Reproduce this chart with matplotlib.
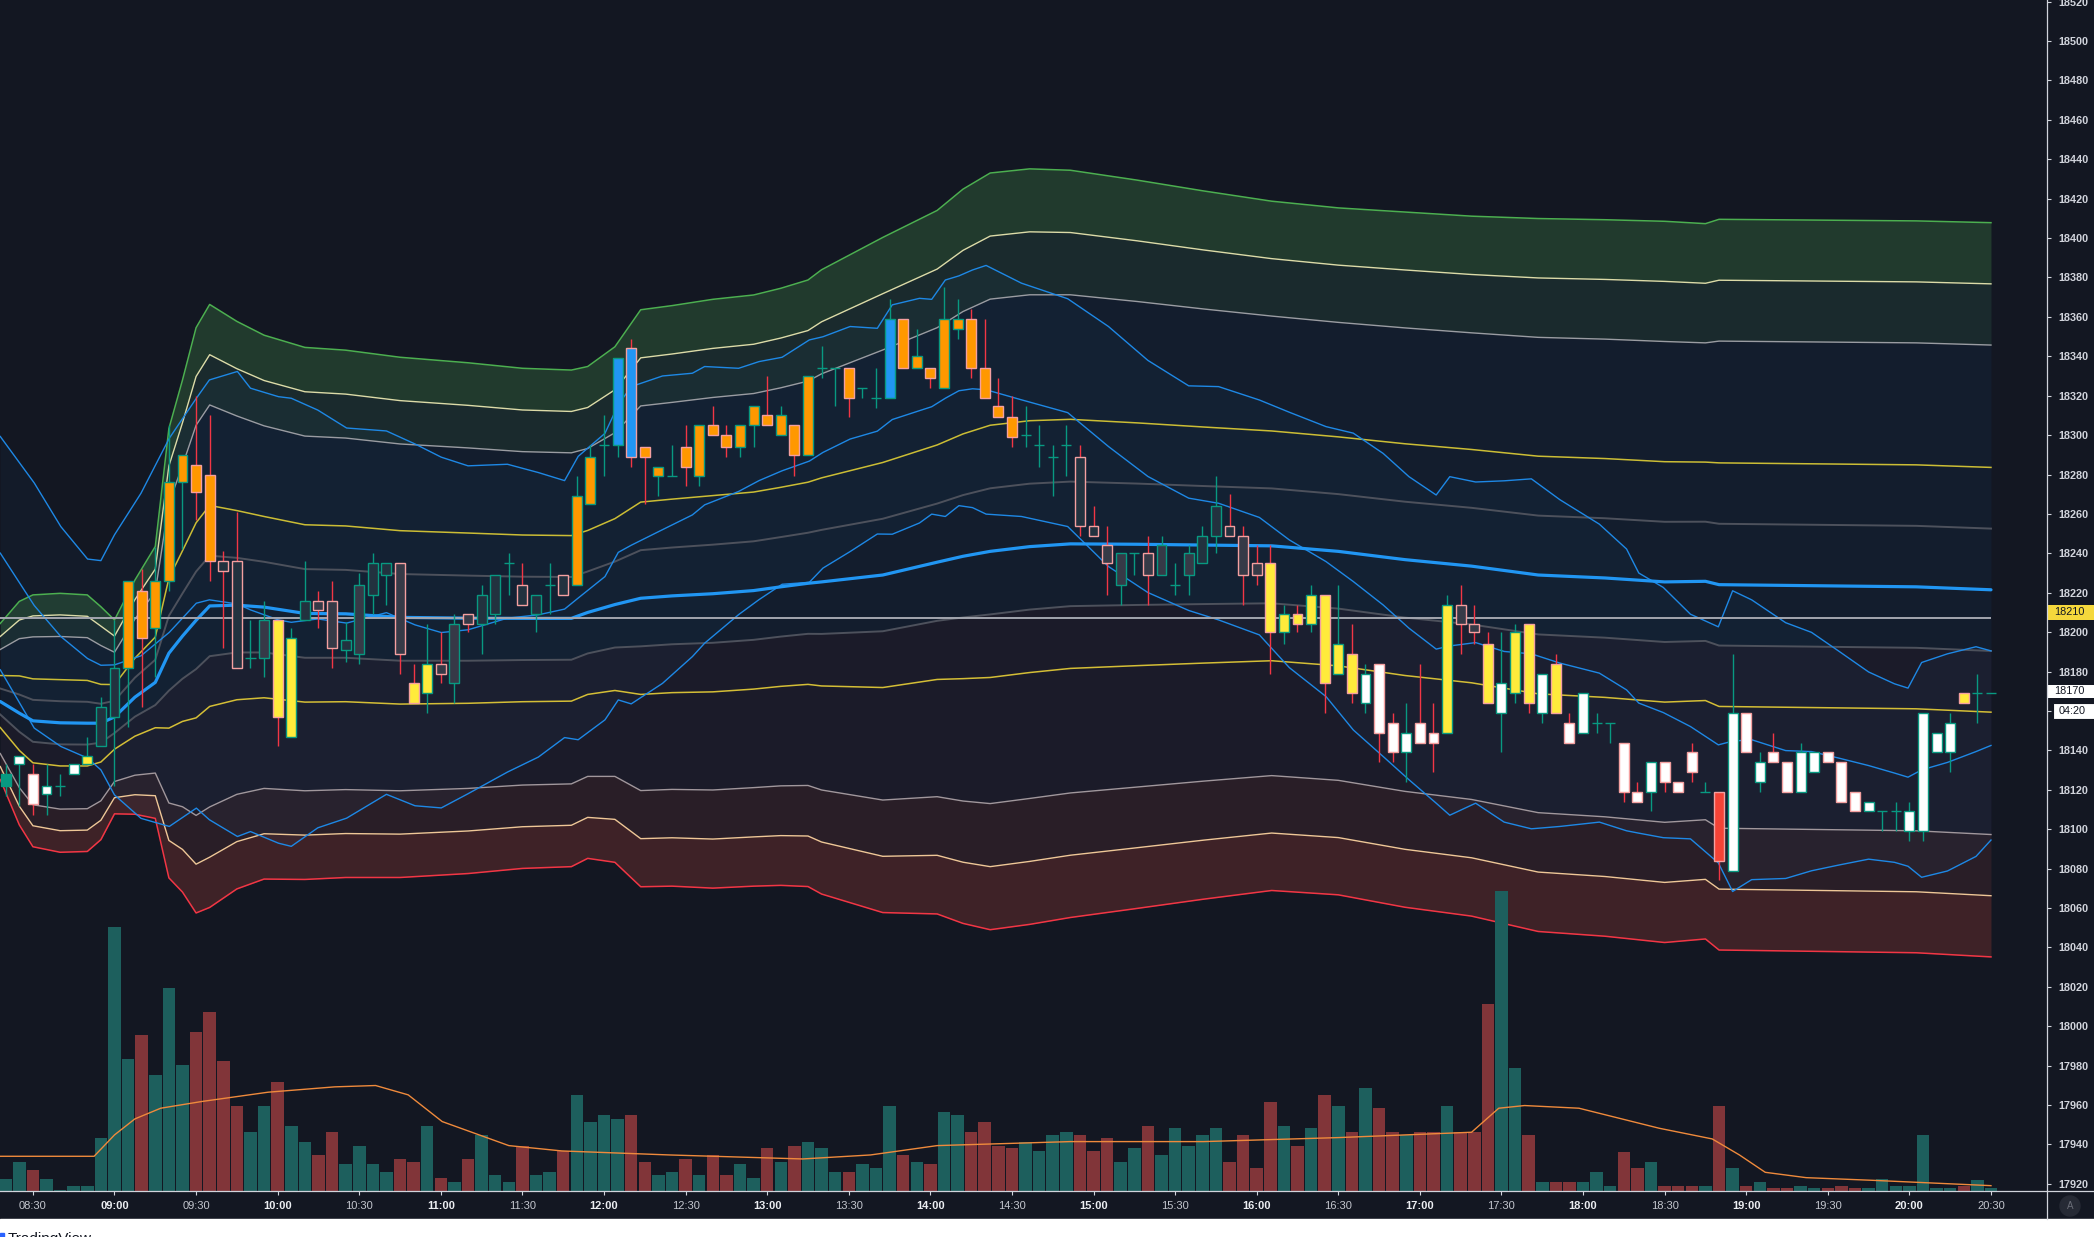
import matplotlib
matplotlib.use('Agg')
import matplotlib.pyplot as plt
import matplotlib.transforms as mtrans
from matplotlib.patches import Rectangle, Circle
from matplotlib.lines import Line2D
import numpy as np

plt.rcParams['font.family'] = ['Liberation Sans', 'DejaVu Sans']

BG = '#131722'

# ---------------- candles (5-minute bars, index 0 = 08:30) ----------------
bar_index = list(range(-2, 145))
opens = [18122, 18133, 18128, 18118, 18122, 18128, 18133, 18142, 18157, 18182,
         18221, 18202, 18226, 18276, 18285, 18280, 18236, 18236, 18187, 18187,
         18206, 18147, 18206, 18216, 18216, 18191, 18189, 18219, 18229, 18235,
         18174, 18169, 18184, 18174, 18209, 18204, 18209, 18235, 18224, 18209,
         18224, 18229, 18224, 18265, 18295, 18295, 18344, 18294, 18279, 18279,
         18294, 18279, 18305, 18300, 18294, 18305, 18310, 18300, 18305, 18290,
         18334, 18334, 18334, 18324, 18319, 18319, 18359, 18334, 18334, 18324,
         18354, 18359, 18334, 18315, 18309, 18300, 18295, 18289, 18295, 18289,
         18254, 18244, 18224, 18240, 18240, 18229, 18224, 18229, 18235, 18249,
         18254, 18249, 18235, 18235, 18200, 18209, 18204, 18219, 18179, 18189,
         18164, 18184, 18154, 18139, 18154, 18149, 18149, 18214, 18204, 18194,
         18159, 18169, 18204, 18159, 18184, 18154, 18149, 18154, 18154, 18144,
         18119, 18119, 18134, 18124, 18139, 18119, 18119, 18079, 18159, 18124,
         18139, 18134, 18119, 18129, 18139, 18134, 18119, 18109, 18109, 18109,
         18099, 18099, 18139, 18139, 18169, 18169, 18169]
highs = [18133, 18137, 18133, 18133, 18128, 18133, 18147, 18167, 18206, 18226,
         18232, 18243, 18305, 18290, 18320, 18310, 18241, 18261, 18206, 18216,
         18206, 18202, 18236, 18221, 18226, 18205, 18230, 18240, 18235, 18235,
         18184, 18204, 18200, 18209, 18209, 18224, 18229, 18240, 18235, 18219,
         18235, 18229, 18279, 18295, 18310, 18339, 18349, 18294, 18284, 18295,
         18305, 18305, 18315, 18305, 18305, 18315, 18330, 18315, 18305, 18330,
         18345, 18334, 18334, 18324, 18334, 18369, 18359, 18354, 18334, 18375,
         18369, 18364, 18359, 18329, 18320, 18315, 18305, 18295, 18305, 18295,
         18264, 18254, 18240, 18240, 18249, 18249, 18235, 18244, 18254, 18279,
         18270, 18254, 18244, 18244, 18214, 18214, 18224, 18219, 18224, 18204,
         18184, 18184, 18159, 18164, 18184, 18164, 18219, 18224, 18214, 18200,
         18200, 18204, 18204, 18179, 18189, 18159, 18169, 18159, 18154, 18144,
         18124, 18134, 18134, 18124, 18144, 18124, 18119, 18189, 18159, 18139,
         18149, 18134, 18144, 18139, 18139, 18134, 18119, 18114, 18109, 18114,
         18114, 18159, 18149, 18159, 18169, 18179, 18169]
lows = [18117, 18112, 18107, 18107, 18117, 18128, 18133, 18142, 18122, 18152,
        18162, 18177, 18221, 18242, 18257, 18226, 18192, 18182, 18182, 18177,
        18142, 18147, 18206, 18202, 18182, 18185, 18184, 18209, 18214, 18179,
        18164, 18159, 18174, 18164, 18200, 18189, 18204, 18219, 18214, 18200,
        18209, 18219, 18224, 18265, 18279, 18289, 18284, 18265, 18269, 18279,
        18274, 18274, 18300, 18289, 18289, 18294, 18305, 18300, 18279, 18290,
        18329, 18315, 18309, 18319, 18314, 18319, 18334, 18334, 18324, 18324,
        18349, 18329, 18319, 18309, 18294, 18294, 18284, 18269, 18279, 18249,
        18249, 18219, 18214, 18229, 18214, 18229, 18219, 18219, 18235, 18240,
        18249, 18214, 18224, 18179, 18194, 18200, 18200, 18159, 18179, 18164,
        18159, 18134, 18134, 18124, 18144, 18129, 18149, 18189, 18194, 18164,
        18139, 18164, 18159, 18154, 18159, 18144, 18149, 18149, 18144, 18114,
        18114, 18109, 18119, 18119, 18124, 18119, 18074, 18079, 18139, 18119,
        18134, 18119, 18119, 18129, 18134, 18114, 18109, 18109, 18099, 18099,
        18094, 18094, 18139, 18129, 18164, 18154, 18169]
closes = [18128, 18137, 18113, 18122, 18122, 18133, 18137, 18162, 18182, 18226,
          18197, 18226, 18276, 18290, 18271, 18236, 18231, 18182, 18187, 18206,
          18157, 18197, 18216, 18211, 18192, 18196, 18224, 18235, 18235, 18189,
          18164, 18184, 18179, 18204, 18204, 18219, 18229, 18235, 18214, 18219,
          18224, 18219, 18269, 18289, 18295, 18339, 18289, 18289, 18284, 18279,
          18284, 18305, 18300, 18294, 18305, 18315, 18305, 18310, 18290, 18330,
          18334, 18334, 18319, 18324, 18319, 18359, 18334, 18340, 18329, 18359,
          18359, 18334, 18319, 18309, 18299, 18300, 18295, 18289, 18295, 18254,
          18249, 18235, 18240, 18240, 18229, 18244, 18224, 18240, 18249, 18264,
          18249, 18229, 18229, 18200, 18209, 18204, 18219, 18174, 18194, 18169,
          18179, 18149, 18139, 18149, 18144, 18144, 18214, 18204, 18200, 18164,
          18174, 18200, 18164, 18179, 18159, 18144, 18169, 18154, 18154, 18119,
          18114, 18134, 18124, 18119, 18129, 18119, 18084, 18159, 18139, 18134,
          18134, 18119, 18139, 18139, 18134, 18114, 18109, 18114, 18109, 18109,
          18109, 18159, 18149, 18154, 18164, 18169, 18169]
# body colour codes: o orange, y yellow, b blue, w white, r red, t teal,
# n dark blue-grey, g dark grey, x doji
body_codes = ("twwwxwynno" "oooooonnxg" "yynggngnng" "yygggnnxnn" "xnooxbboox"
              "oooooooooo" "xxoxxboooo" "oooooxxxxn" "nggxggxgnn" "nggyyyyyyy"
              "wwwwwwyggy" "wyywywwxxw" "wwwwwxrwww" "wwwwwwwwxx" "wwwwyxx")
volumes = [90, 215, 155, 90, 10, 35, 35, 400, 1980, 990,
           1170, 870, 1520, 940, 1190, 1340, 970, 640, 440, 640,
           820, 490, 370, 270, 440, 200, 340, 200, 140, 240,
           220, 490, 100, 70, 240, 420, 120, 70, 340, 120,
           140, 300, 720, 520, 570, 540, 570, 220, 120, 140,
           240, 120, 270, 120, 200, 100, 320, 220, 340, 370,
           320, 140, 140, 200, 170, 640, 270, 220, 200, 590,
           570, 440, 520, 340, 320, 370, 300, 420, 440, 420,
           300, 400, 220, 320, 490, 270, 470, 340, 420, 470,
           220, 420, 170, 670, 490, 340, 470, 720, 640, 440,
           770, 620, 440, 420, 440, 440, 640, 440, 440, 1400,
           2250, 920, 420, 70, 70, 70, 70, 140, 40, 290,
           170, 220, 40, 40, 40, 40, 640, 170, 40, 70,
           20, 20, 40, 20, 20, 40, 20, 20, 90, 40,
           40, 420, 20, 20, 40, 80, 20]

# volume moving average
volma_idx = [-2.4, 4.5, 6, 7.5, 9.4, 12.4, 17.3, 22.2, 25.2, 27.6, 30.1, 35, 38.9,
             46.8, 56.6, 61.6, 66.5, 76.3, 86.1, 96, 105.8, 107.8, 109.7, 113.7,
             119.6, 123.5, 125.5, 127.4, 130.4, 135.3, 144]
volma_vals = [260, 260, 420, 540, 620, 670, 740, 780, 790, 720, 520, 340, 300,
              270, 240, 270, 340, 370, 370, 400, 440, 620, 640, 620,
              470, 390, 270, 140, 100, 80, 40]

# VWAP centre line and its standard deviation
vwap_idx = [-2.4, -1, 0, 2, 4, 5, 6, 7.5, 9, 10, 11, 12, 13, 15, 17, 20, 23, 27,
            32, 36, 39.6, 40.8, 42.8, 44.7, 47, 50, 53, 55, 57, 58, 62.5, 66.5,
            68.4, 70.4, 73.3, 76.3, 81.2, 86.1, 91.1, 96, 100.9, 105.8, 110.7,
            115.6, 120, 123, 124, 138.5, 144]
vwap_mid = [18164.8, 18158.9, 18155.0, 18154.0, 18153.8, 18153.8, 18157.0, 18167.0,
            18174.5, 18189.3, 18198.0, 18206.0, 18213.3, 18213.7, 18212.7, 18209.5,
            18209.3, 18207.5, 18207.1, 18207.0, 18207.0, 18210.0, 18214.0, 18217.2,
            18218.4, 18219.5, 18221.1, 18223.0, 18224.8, 18225.5, 18229.0, 18235.5,
            18238.5, 18241.0, 18243.4, 18244.8, 18244.6, 18244.2, 18243.8, 18241.0,
            18236.8, 18233.5, 18229.0, 18227.5, 18225.5, 18225.8, 18224.1, 18223.0,
            18221.5]
vwap_sigma = [13.2, 18.9, 21.3, 21.9, 21.7, 19.7, 16.4, 19.8, 23.0, 38.0, 43.3,
              49.5, 51.0, 48.0, 46.0, 45.0, 44.6, 44.0, 43.2, 42.3, 42.0, 41.6,
              43.6, 48.8, 49.1, 49.8, 50.0, 50.5, 51.3, 52.8, 57.1, 59.5, 62.1,
              64.0, 63.9, 63.2, 61.6, 59.9, 58.3, 58.1, 58.8, 59.2, 60.3, 60.6,
              61.0, 60.5, 61.8, 61.9, 62.1]

# Bollinger bands (basis and deviation)
bb_idx = [-2.4, 0.1, 2.05, 4.02, 5, 6, 7.95, 10.03, 12.02, 12.98, 15.04, 16, 18.06,
          19, 20.95, 23.07, 26, 28.1, 30.03, 32, 34.9, 37.17, 39.1, 40.1, 42.07,
          43.05, 44, 46.3, 48.5, 49.4, 51.9, 53.4, 55.1, 57.1, 58.1, 60.1, 62.1,
          63.2, 65.2, 66.1, 67.1, 68.1, 69.1, 70.1, 72.7, 76.1, 79.1, 82, 85,
          87.2, 90.2, 92.4, 95.1, 97.1, 99.3, 101.2, 103.2, 104.2, 106.1, 108.2,
          110.2, 112.3, 115.2, 117.2, 118.1, 119.9, 121.9, 123.95, 125, 126.4,
          128.9, 130.8, 132.8, 135, 136.9, 137.9, 138.9, 140.8, 142.9, 144]
bb_basis = [18240.1, 18213.5, 18197.8, 18186.6, 18183.2, 18183.4, 18188.0, 18199.9,
            18214.7, 18216.4, 18214.3, 18211.3, 18206.2, 18205.0, 18206.7, 18204.6,
            18209.9, 18203.7, 18199.8, 18201.2, 18207.1, 18208.8, 18211.7, 18217.3,
            18228.2, 18240.5, 18244.1, 18252.0, 18259.5, 18264.6, 18271.4, 18276.9,
            18281.9, 18286.8, 18291.2, 18298.0, 18302.0, 18307.9, 18312.4, 18314.4,
            18318.7, 18322.5, 18323.5, 18323.0, 18317.9, 18311.4, 18294.2, 18279.0,
            18268.0, 18265.4, 18258.2, 18246.8, 18235.8, 18225.7, 18213.8, 18202.0,
            18191.4, 18193.0, 18194.7, 18190.2, 18189.0, 18184.3, 18179.2, 18170.7,
            18164.0, 18159.2, 18152.1, 18142.8, 18144.7, 18145.4, 18139.9, 18139.4,
            18136.1, 18132.3, 18128.5, 18126.4, 18130.1, 18133.9, 18139.4, 18142.5]
bb_dev = [59.2, 62.2, 55.8, 50.5, 53.1, 66.0, 82.5, 98.5, 104.0, 111.6, 118.0,
          112.5, 113.3, 113.7, 106.0, 99.0, 92.2, 91.8, 89.0, 83.2, 78.1, 72.2,
          65.2, 71.9, 72.7, 74.9, 80.5, 78.0, 71.9, 70.2, 62.5, 60.4, 57.6, 61.5,
          58.7, 57.1, 52.2, 58.2, 57.0, 54.5, 60.0, 58.3, 60.3, 63.1, 59.2, 57.8,
          60.9, 58.9, 57.0, 59.2, 59.6, 64.8, 68.5, 75.3, 76.9, 76.9, 78.2, 85.9,
          81.5, 86.6, 88.8, 82.9, 75.6, 71.5, 66.0, 63.5, 57.0, 59.9, 76.3, 71.0,
          64.9, 60.5, 54.3, 47.5, 45.3, 45.2, 54.5, 55.1, 53.2, 48.0]

ref_level = 18207
time_labels = ['08:30', '09:00', '09:30', '10:00', '10:30', '11:00', '11:30', '12:00',
               '12:30', '13:00', '13:30', '14:00', '14:30', '15:00', '15:30', '16:00',
               '16:30', '17:00', '17:30', '18:00', '18:30', '19:00', '19:30', '20:00',
               '20:30']
price_ticks = list(range(17920, 18521, 20))
line_label_value = 18210
last_price_label = 18170
countdown_text = '04:20'

# ---------------- figure ----------------
W, H = 2094, 1237
PLOT_R, PLOT_B = 2047, 1191
fig = plt.figure(figsize=(W / 100, H / 100), dpi=100, facecolor=BG)
rect = [0, (H - PLOT_B) / H, PLOT_R / W, PLOT_B / H]
ax = fig.add_axes(rect)
axv = fig.add_axes(rect, sharex=ax)
axc = fig.add_axes(rect, sharex=ax, sharey=ax)
ax.set_facecolor(BG)
axv.patch.set_visible(False)
axc.patch.set_visible(False)
XL = (-2.42, 148.12)
ax.set_xlim(*XL)
ax.set_ylim(17916.4, 18520.8)
axv.set_ylim(0, 8920)
for a in (ax, axv, axc):
    for s in a.spines.values():
        s.set_visible(False)
for a in (ax, axv):
    a.tick_params(left=False, labelleft=False, bottom=False, labelbottom=False,
                  right=False, labelright=False)

# VWAP bands
vx = np.array(vwap_idx)
vm = np.array(vwap_mid)
vs = np.array(vwap_sigma)
band = lambda k: vm + k * vs
fills = [(2.5, 3, '#213a2d'), (2, 2.5, '#1a2a2d'), (-0.5, 2, '#131d2d'),
         (-2, -0.5, '#1b1b29'), (-2.5, -2, '#291e27'), (-3, -2.5, '#3e2227')]
for lo, hi, c in fills:
    ax.fill_between(vx, band(lo), band(hi), color=c, lw=0, zorder=1)

bx = np.array(bb_idx)
bbm = np.array(bb_basis)
bbd = np.array(bb_dev)
ax.fill_between(bx, bbm - bbd, bbm + bbd, color='#2196f3', alpha=0.035, lw=0, zorder=2)

band_lines = [(3, '#4caf50', 1.1), (2.5, '#dcdba8', 1.0), (2, '#9a9ca2', 1.0),
              (1, '#cbbd35', 1.1), (0.5, '#4d515c', 1.4), (-0.5, '#4d515c', 1.4),
              (-1, '#d4be36', 1.1), (-2, '#a1979c', 1.0), (-2.5, '#efc797', 1.0),
              (-3, '#f23645', 1.1)]
for k, c, lw in band_lines:
    ax.plot(vx, band(k), color=c, lw=lw, zorder=3)

for yy in (bbm + bbd, bbm, bbm - bbd):
    ax.plot(bx, yy, color='#1e88e5', lw=1.0, zorder=4)
ax.plot(vx, vm, color='#2196f3', lw=2.3, zorder=5, solid_capstyle='round')
ax.hlines(ref_level, XL[0], bar_index[-1], color='#a3a6af', lw=1.4, zorder=5)

# volume
bi = np.array(bar_index)
o = np.array(opens); c_ = np.array(closes); h = np.array(highs); l = np.array(lows)
up = c_ >= o
axv.bar(bi, volumes, width=0.92, color=np.where(up, '#1d5f5d', '#813539'), lw=0, zorder=1)
axv.plot(volma_idx, volma_vals, color='#ef8a3c', lw=1.0, zorder=2)

# candles
colmap = {'o': '#ff9800', 'y': '#ffeb3b', 'b': '#2196f3', 'w': '#ffffff',
          'r': '#f44336', 't': '#089981', 'n': '#22323f', 'g': '#363a47', 'x': '#089981'}
codes = list(body_codes)
doji = np.array([cd == 'x' for cd in codes])
wick_col = np.where(up, '#089981', '#f23645')
axc.vlines(bi, l, h, colors=wick_col, lw=1.0, zorder=3)
nd = ~doji
axc.bar(bi[nd], (c_ - o)[nd], bottom=o[nd], width=0.73,
        color=[colmap[cd] for cd, m in zip(codes, nd) if m],
        edgecolor=np.where(up, '#089981', '#f4a0a0')[nd], lw=1.0, zorder=4)
axc.hlines(o[doji], bi[doji] - 0.37, bi[doji] + 0.37, colors='#089981', lw=1.0, zorder=4)

# axes ticks
axc.yaxis.tick_right()
axc.set_yticks(price_ticks)
axc.set_yticklabels([str(p) for p in price_ticks])
axc.tick_params(axis='y', colors='#d1d4dc', labelsize=7.8, length=3, width=0.8, pad=5,
                direction='out')
tick_idx = [(int(t[:2]) * 60 + int(t[3:]) - 510) / 5 for t in time_labels]
axc.set_xticks(tick_idx)
axc.set_xticklabels(time_labels)
axc.tick_params(axis='x', colors='#d1d4dc', labelsize=8, length=3, width=0.8, pad=4,
                direction='out')
for lab, t in zip(axc.get_xticklabels(), time_labels):
    if t.endswith(':00'):
        lab.set_fontweight('bold')
        lab.set_color('#eceef2')
    else:
        lab.set_color('#c3c6ce')
for lab in axc.get_yticklabels():
    lab.set_fontweight('bold')

# axis frame lines
yb = (H - PLOT_B) / H
fig.add_artist(Line2D([0, 1], [yb, yb], transform=fig.transFigure, color='#d1d4dc', lw=0.9))
fig.add_artist(Line2D([PLOT_R / W, PLOT_R / W], [18 / H, 1], transform=fig.transFigure,
                      color='#d1d4dc', lw=0.9))

# price labels on the scale
trans = mtrans.blended_transform_factory(axc.transAxes, axc.transData)
bw = (W - PLOT_R) / PLOT_R
ppx = (18520.8 - 17916.4) / PLOT_B  # price per pixel


def scale_label(price, text, face, edge='none', x0=1.0005, hpx=15):
    axc.add_patch(Rectangle((x0, price - hpx * ppx / 2), bw, hpx * ppx, transform=trans,
                            facecolor=face, edgecolor=edge, lw=0.8, clip_on=False, zorder=20))
    axc.text(x0 + 6 / PLOT_R, price, text, transform=trans, ha='left', va='center',
             fontsize=7.8, color='#131722', clip_on=False, zorder=21)


scale_label(line_label_value, str(line_label_value), '#f5d83c')
scale_label(last_price_label, str(last_price_label), '#ffffff', hpx=13)
scale_label(last_price_label - 9.8, countdown_text, '#ffffff', edge='#131722',
            x0=1.0 + 6 / PLOT_R, hpx=16)

# auto-scale button
ident = mtrans.IdentityTransform()
fig.add_artist(Circle((2070, H - 1206), 10, transform=ident, color='#262a35'))
fig.text(2070, H - 1206, 'A', transform=ident, ha='center', va='center', fontsize=7,
         color='#6a6d78')

# bottom strip with watermark (cut off by the image edge)
fig.add_artist(Rectangle((0, 0), 1, 18 / H, transform=fig.transFigure, color='white'))
fig.add_artist(Rectangle((0, 0), 4 / W, 4 / H, transform=fig.transFigure,
                         color='#2962ff'))
fig.text(8 / W, 5 / H, 'TradingView', transform=fig.transFigure, ha='left', va='top',
         fontsize=11, color='#131722')

fig.savefig('out.png', dpi=100, facecolor=BG)
